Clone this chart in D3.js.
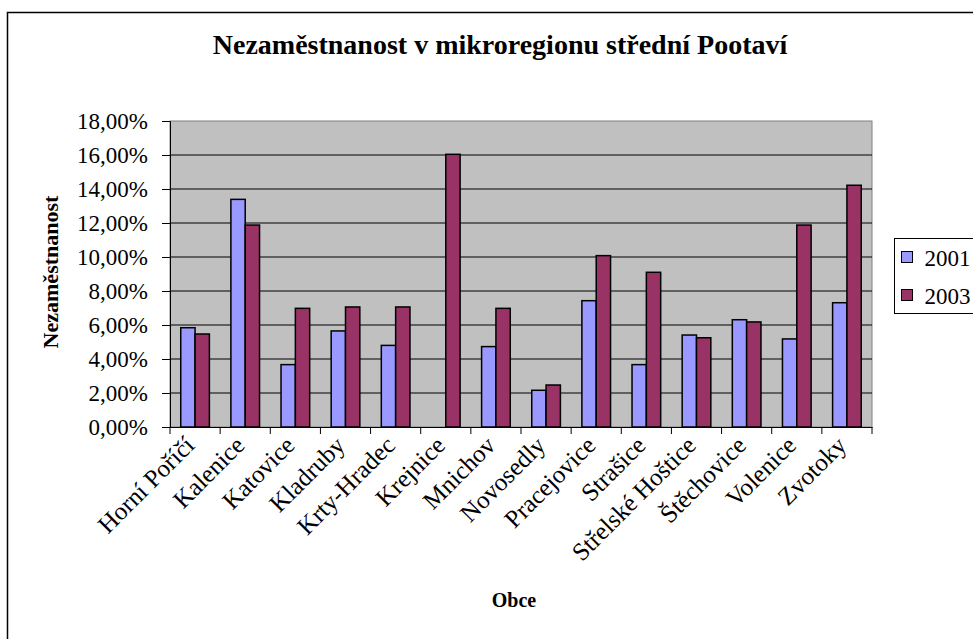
<!DOCTYPE html>
<html>
<head>
<meta charset="utf-8">
<script src="https://cdn.jsdelivr.net/npm/d3@7"></script>
<style>
  body { margin: 0; background: #fff; }
  text { font-family: "Liberation Serif", "Times New Roman", serif; fill: #000; }
</style>
</head>
<body>
<svg class="parchment" width="973" height="639"></svg>
<script>
var obce = ["Horní Poříčí", "Kalenice", "Katovice", "Kladruby", "Krty-Hradec", "Krejnice",
  "Mnichov", "Novosedly", "Pracejovice", "Strašice", "Střelské Hoštice", "Štěchovice", "Volenice", "Zvotoky"]
var roky = ["2001", "2003"]
var v2001 = [5.84, 13.39, 3.67, 5.65, 4.80, 0, 4.73, 2.16, 7.43, 3.67, 5.41, 6.31, 5.18, 7.31]
var v2003 = [5.47, 11.88, 6.98, 7.06, 7.06, 16.04, 6.98, 2.47, 10.08, 9.10, 5.25, 6.18, 11.88, 14.22]
var yTicks = [0, 2, 4, 6, 8, 10, 12, 14, 16, 18]
var barvy = ["#9999ff", "#993366"]

var svg = d3.select(".parchment")
var plot = {left: 170, right: 872, top: 121, bottom: 427}

// chart border (runs off the picture on right and bottom)
svg.append("rect").attr("x", 7.5).attr("y", 12.5).attr("width", 1000).attr("height", 700)
  .attr("fill", "#fff").attr("stroke", "#000").attr("stroke-width", 1.5)

var x = d3.scaleBand().domain(obce).range([plot.left, plot.right]).paddingInner(0).paddingOuter(0)
var xs = d3.scaleBand().domain(roky).range([0, x.bandwidth()]).paddingInner(0).paddingOuter(0.75)
var y = d3.scaleLinear().domain([0, 18]).range([plot.bottom, plot.top])

svg.append("rect").attr("x", plot.left).attr("y", plot.top)
  .attr("width", plot.right - plot.left).attr("height", plot.bottom - plot.top)
  .attr("fill", "#c0c0c0").attr("stroke", "#808080")

// gridlines
svg.append("g").selectAll("line").data(yTicks.slice(1, -1)).enter().append("line")
  .attr("x1", plot.left).attr("x2", plot.right)
  .attr("y1", d => y(d)).attr("y2", d => y(d))
  .attr("stroke", "#000").attr("stroke-width", 1)

// bars
var rows = obce.map((o, i) => ({obec: o, vals: [v2001[i], v2003[i]]}))
var grp = svg.append("g").selectAll("g").data(rows).enter().append("g")
  .attr("transform", d => "translate(" + x(d.obec) + ",0)")
grp.selectAll("rect").data(d => d.vals.map((v, j) => ({rok: roky[j], v: v, j: j})).filter(d => d.v > 0))
  .enter().append("rect")
  .attr("x", d => xs(d.rok)).attr("width", xs.bandwidth())
  .attr("y", d => y(d.v)).attr("height", d => y(0) - y(d.v))
  .attr("fill", d => barvy[d.j]).attr("stroke", "#000").attr("stroke-width", 1.5)

// y axis
var yAxis = d3.axisLeft(y).tickValues(yTicks).tickSize(8).tickPadding(14)
  .tickFormat(d => d3.format(".2f")(d).replace(".", ",") + "%")
var ga = svg.append("g").attr("transform", "translate(" + plot.left + ",0)").call(yAxis)
ga.select(".domain").attr("stroke", "#000")
ga.selectAll("text").style("font-size", "23px").attr("font-family", null)

// x axis
var xAxis = d3.axisBottom(x).tickSize(0).tickFormat("")
var gx = svg.append("g").attr("transform", "translate(0," + plot.bottom + ")").call(xAxis)
gx.select(".domain").attr("stroke", "#000")
gx.selectAll(".tick").remove()
gx.selectAll("line.sep").data(obce.map(o => x(o)).concat([plot.right])).enter().append("line")
  .attr("x1", d => d).attr("x2", d => d).attr("y1", 0).attr("y2", 7).attr("stroke", "#000")
gx.selectAll("text.lbl").data(obce).enter().append("text")
  .attr("class", "lbl")
  .attr("transform", d => "translate(" + (x(d) + x.bandwidth() / 2 - 8) + ",11) rotate(-45)")
  .attr("text-anchor", "end").attr("dy", "0.5em")
  .style("font-size", "25px")
  .text(d => d)

// titles
svg.append("text").attr("x", 500).attr("y", 54).attr("text-anchor", "middle")
  .style("font-size", "28px").style("font-weight", "bold")
  .text("Nezaměstnanost v mikroregionu střední Pootaví")
svg.append("text").attr("transform", "translate(58,272) rotate(-90)").attr("text-anchor", "middle")
  .style("font-size", "22px").style("font-weight", "bold").text("Nezaměstnanost")
svg.append("text").attr("x", 514).attr("y", 607).attr("text-anchor", "middle")
  .style("font-size", "20px").style("font-weight", "bold").text("Obce")

// legend
var lg = svg.append("g").attr("transform", "translate(894.5,238.5)")
lg.append("rect").attr("width", 100).attr("height", 75).attr("fill", "#fff").attr("stroke", "#000")
var li = lg.selectAll("g").data(roky).enter().append("g")
  .attr("transform", (d, i) => "translate(7," + (19 + i * 38) + ")")
li.append("rect").attr("y", -6).attr("width", 11).attr("height", 11)
  .attr("fill", (d, i) => barvy[i]).attr("stroke", "#000")
li.append("text").attr("x", 23).attr("dy", "0.35em").style("font-size", "23px").text(d => d)
</script>
</body>
</html>
